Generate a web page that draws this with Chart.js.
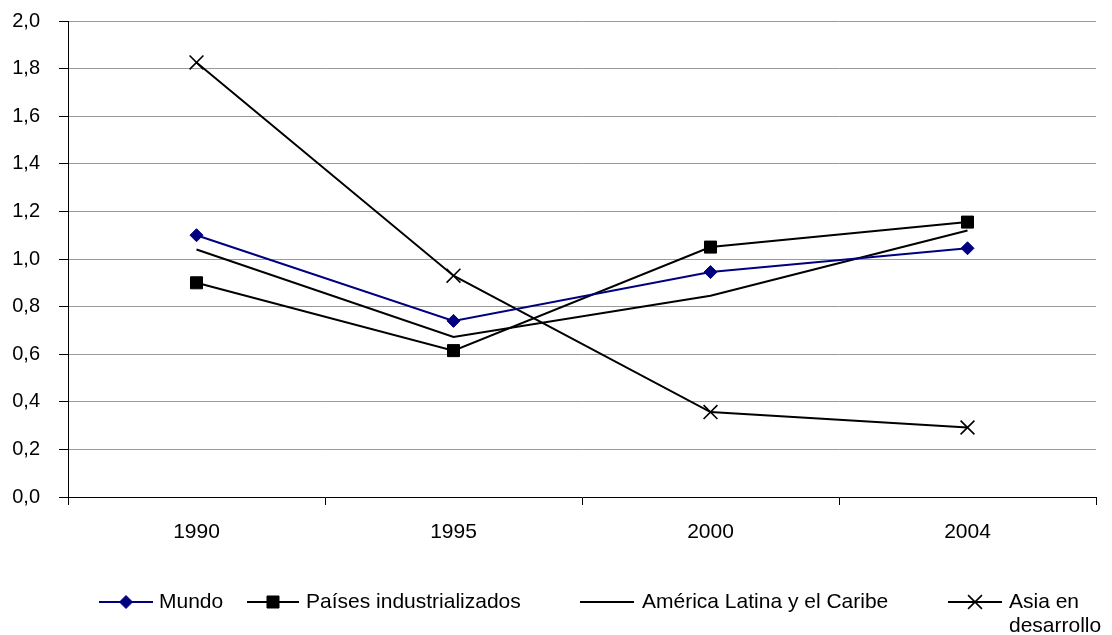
<!DOCTYPE html>
<html>
<head>
<meta charset="utf-8">
<script src="https://cdn.jsdelivr.net/npm/chart.js@4"></script>
<style>
  html, body { margin: 0; padding: 0; background: #fff; }
  #wrap { width: 1112px; height: 635px; position: relative; }
</style>
</head>
<body>
<div id="wrap"><canvas id="c" width="1112" height="635"></canvas></div>
<script>
// Years on the category axis
const years = ['1990', '1995', '2000', '2004'];

// Series values
const mundo = [1.10, 0.74, 0.945, 1.045];
const paisesIndustrializados = [0.90, 0.615, 1.05, 1.155];
const americaLatina = [1.04, 0.672, 0.846, 1.12];
const asiaDesarrollo = [1.826, 0.93, 0.357, 0.292];

// Series names (the last one is wrapped on two lines in the legend)
const seriesNames = ['Mundo', 'Países industrializados', 'América Latina y el Caribe', ['Asia en', 'desarrollo']];

// Value axis
const yMin = 0, yMax = 2, yStep = 0.2;

const FONT = "'Liberation Sans', Arial, sans-serif";
const X_FONT_SIZE = 21;
const Y_FONT_SIZE = 20;
const LEGEND_FONT_SIZE = 21;

// Legend entries drawn below the axis: line start/end x, text x
const legendSlots = [
  { x0: 99, x1: 153, tx: 159 },
  { x0: 247, x1: 299, tx: 306 },
  { x0: 580, x1: 634, tx: 642 },
  { x0: 948, x1: 1002, tx: 1009 }
];
const legendY = 602;
const legendLineGap = 24;

function markerPath(ctx, style, x, y, r) {
  ctx.beginPath();
  if (style === 'rectRot') {
    ctx.moveTo(x - r, y); ctx.lineTo(x, y - r); ctx.lineTo(x + r, y); ctx.lineTo(x, y + r);
    ctx.closePath();
  } else if (style === 'rect') {
    const s = r * Math.SQRT1_2;
    ctx.rect(x - s, y - s, 2 * s, 2 * s);
  } else if (style === 'crossRot') {
    const s = r * Math.SQRT1_2;
    ctx.moveTo(x - s, y - s); ctx.lineTo(x + s, y + s);
    ctx.moveTo(x - s, y + s); ctx.lineTo(x + s, y - s);
  }
}

const bottomLegend = {
  id: 'bottomLegend',
  afterDraw(chart) {
    const ctx = chart.ctx;
    ctx.save();
    chart.data.datasets.forEach((ds, i) => {
      const slot = legendSlots[i];
      ctx.strokeStyle = ds.borderColor;
      ctx.lineWidth = ds.borderWidth;
      ctx.beginPath();
      ctx.moveTo(slot.x0, legendY);
      ctx.lineTo(slot.x1, legendY);
      ctx.stroke();
      if (ds.pointRadius > 0) {
        const mx = (slot.x0 + slot.x1) / 2;
        markerPath(ctx, ds.pointStyle, mx, legendY, ds.pointRadius);
        ctx.fillStyle = ds.pointBackgroundColor;
        ctx.strokeStyle = ds.pointBorderColor;
        ctx.lineWidth = ds.pointBorderWidth;
        if (ds.pointStyle !== 'crossRot') ctx.fill();
        ctx.stroke();
      }
      ctx.fillStyle = '#000';
      ctx.font = LEGEND_FONT_SIZE + 'px ' + FONT;
      ctx.textBaseline = 'middle';
      ctx.textAlign = 'left';
      const lines = Array.isArray(ds.label) ? ds.label : [ds.label];
      lines.forEach((t, k) => ctx.fillText(t, slot.tx, legendY + k * legendLineGap));
    });
    ctx.restore();
  }
};

new Chart(document.getElementById('c'), {
  type: 'line',
  data: {
    labels: years,
    datasets: [
      {
        label: seriesNames[0], data: mundo,
        borderColor: '#000080', borderWidth: 2,
        pointStyle: 'rectRot', pointRadius: 6.5,
        pointBackgroundColor: '#000080', pointBorderColor: '#000080', pointBorderWidth: 1
      },
      {
        label: seriesNames[1], data: paisesIndustrializados,
        borderColor: '#000000', borderWidth: 2,
        pointStyle: 'rect', pointRadius: 8.5,
        pointBackgroundColor: '#000000', pointBorderColor: '#000000', pointBorderWidth: 1
      },
      {
        label: seriesNames[2], data: americaLatina,
        borderColor: '#000000', borderWidth: 2,
        pointStyle: 'circle', pointRadius: 0,
        pointBackgroundColor: '#000000', pointBorderColor: '#000000', pointBorderWidth: 0
      },
      {
        label: seriesNames[3], data: asiaDesarrollo,
        borderColor: '#000000', borderWidth: 2,
        pointStyle: 'crossRot', pointRadius: 9.8,
        pointBackgroundColor: '#000000', pointBorderColor: '#000000', pointBorderWidth: 1.6
      }
    ]
  },
  options: {
    responsive: false,
    animation: false,
    devicePixelRatio: 1,
    layout: { padding: { left: 0, right: 16, top: 21, bottom: 0 } },
    elements: { line: { tension: 0 } },
    plugins: {
      legend: { display: false },
      tooltip: { enabled: false },
      title: { display: false }
    },
    scales: {
      x: {
        type: 'category',
        offset: true,
        grid: { offset: true, drawOnChartArea: false, drawTicks: true, tickLength: 8, tickColor: '#000', tickWidth: 1 },
        border: { display: true, color: '#000', width: 1 },
        ticks: { color: '#000', font: { family: FONT, size: X_FONT_SIZE }, padding: 15, maxRotation: 0 },
        afterFit(scale) {
          scale.height = 138;
          scale.paddingLeft = 0; scale.paddingRight = 0;
        }
      },
      y: {
        min: yMin, max: yMax,
        grid: { color: '#9a9a9a', lineWidth: 1, drawTicks: true, tickLength: 9, tickColor: '#000' },
        border: { display: true, color: '#000', width: 1 },
        ticks: {
          stepSize: yStep, color: '#000', font: { family: FONT, size: Y_FONT_SIZE }, padding: 19,
          callback: v => v.toFixed(1).replace('.', ',')
        },
        afterFit(scale) {
          scale.width = 68;
          scale.paddingTop = 0; scale.paddingBottom = 0;
        }
      }
    }
  },
  plugins: [bottomLegend]
});
</script>
</body>
</html>
